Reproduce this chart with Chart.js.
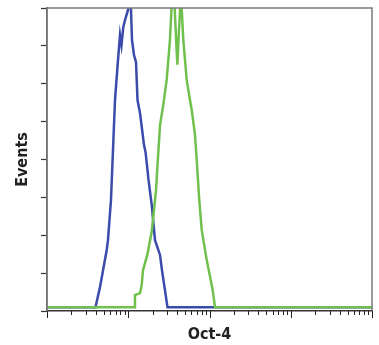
<!DOCTYPE html>
<html>
<head>
<meta charset="utf-8">
<script src="https://cdn.jsdelivr.net/npm/chart.js@4.4.1/dist/chart.umd.min.js"></script>
<style>
  html, body { margin: 0; padding: 0; background: #fff; }
  #wrap { width: 379px; height: 345px; }
</style>
</head>
<body>
<div id="wrap"><canvas id="hist"></canvas></div>
<script>
// Oct-4 flow histogram: control (blue) vs stained (green)
const blueX = [1, 3.95, 4.49, 5.43, 5.63, 6.13, 6.87, 7.48, 7.92, 8.26, 8.69, 9.12, 9.93, 10.66,
               11.12, 11.77, 12.46, 13.0, 13.95, 15.63, 16.3, 17.0, 17.76, 19.44, 21.34, 24.6, 26.0, 28.3, 30.4, 10000];
const blueY = [10, 10, 63, 161, 187, 293, 557, 663, 729, 702, 750, 768, 795, 834,
               715, 676, 657, 557, 523, 438, 420, 385, 346, 280, 187, 148, 108, 55, 10, 10];

const greenX = [1, 11.87, 12.1, 13.95, 14.64, 15.2, 17.15, 19.44, 21.34, 21.97, 23.44, 24.6, 27.0, 29.7, 32.6,
                34.5, 36.6, 40.2, 42.1, 44.6, 47.6, 52.4, 57.5, 60.4, 66.3, 69.6, 74.8, 80.2, 92.4, 109.5, 116.9, 10000];
const greenY = [10, 10, 42, 47, 69, 108, 148, 209, 293, 319, 420, 490, 545, 610, 715,
                821, 834, 650, 742, 834, 715, 610, 557, 531, 465, 399, 293, 214, 135, 55, 10, 10];

const decades = [1, 10, 100, 1000];
const steps = [1, 2, 3, 4, 5, 6, 7, 8, 9];
const xTicks = decades.flatMap(d => steps.map(s => s * d)).concat([10000]);

const toPoints = (xs, ys) => xs.map((x, i) => ({ x: x, y: ys[i] }));

const logTickMarks = {
    id: 'logTickMarks',
    afterDraw(chart) {
        const sc = chart.scales.x, ctx = chart.ctx;
        ctx.save();
        ctx.strokeStyle = '#222';
        ctx.lineWidth = 1;
        sc.ticks.forEach(t => {
            const l = Math.log10(t.value);
            const major = Math.abs(l - Math.round(l)) < 1e-9;
            const px = Math.round(sc.getPixelForValue(t.value)) + 0.5;
            ctx.beginPath();
            ctx.moveTo(px, sc.top);
            ctx.lineTo(px, sc.top + (major ? 7 : 4));
            ctx.stroke();
        });
        ctx.restore();
    }
};

const frame = {
    id: 'frame',
    afterDatasetsDraw(chart) {
        const a = chart.chartArea, ctx = chart.ctx;
        ctx.save();
        ctx.strokeStyle = '#7a7a7a';
        ctx.lineWidth = 1.5;
        ctx.beginPath();
        ctx.moveTo(a.left, a.bottom);
        ctx.lineTo(a.left, a.top);
        ctx.lineTo(a.right, a.top);
        ctx.lineTo(a.right, a.bottom);
        ctx.stroke();
        ctx.restore();
    }
};

new Chart(document.getElementById('hist'), {
    type: 'line',
    data: {
        datasets: [{
            label: 'Control',
            data: toPoints(blueX, blueY),
            borderColor: '#3b4bab',
            borderWidth: 2.5,
            pointRadius: 0,
            tension: 0,
            order: 1
        }, {
            label: 'Oct-4',
            data: toPoints(greenX, greenY),
            borderColor: '#6fc04c',
            borderWidth: 2.5,
            pointRadius: 0,
            tension: 0,
            order: 0
        }]
    },
    options: {
        responsive: true,
        maintainAspectRatio: false,
        animation: false,
        layout: { padding: { top: 8, right: 7, left: 0, bottom: 0 } },
        plugins: { legend: { display: false }, tooltip: { enabled: false } },
        scales: {
            x: {
                type: 'logarithmic',
                min: 1,
                max: 10000,
                afterBuildTicks(scale) { scale.ticks = xTicks.map(v => ({ value: v })); },
                afterFit(scale) { scale.height = 34; },
                ticks: { display: false },
                grid: { drawOnChartArea: false, drawTicks: false },
                border: { color: '#333', width: 1.5 },
                title: {
                    display: true,
                    text: 'Oct-4',
                    color: '#222',
                    font: { family: '"Liberation Sans Narrow", "DejaVu Sans Condensed", sans-serif', size: 16, weight: 'bold' },
                    padding: { top: 0, bottom: 1 }
                }
            },
            y: {
                min: 0,
                max: 800,
                ticks: { display: false, stepSize: 100 },
                afterFit(scale) { scale.width = 47; },
                grid: { drawOnChartArea: false, tickLength: 6, tickColor: '#333', tickWidth: 1.2 },
                border: { color: '#555', width: 1.5 },
                title: {
                    display: true,
                    text: 'Events',
                    color: '#222',
                    font: { family: '"Liberation Sans Narrow", "DejaVu Sans Condensed", sans-serif', size: 16, weight: 'bold' },
                    padding: { top: 13, bottom: 0 }
                }
            }
        }
    },
    plugins: [logTickMarks, frame]
});
</script>
</body>
</html>
